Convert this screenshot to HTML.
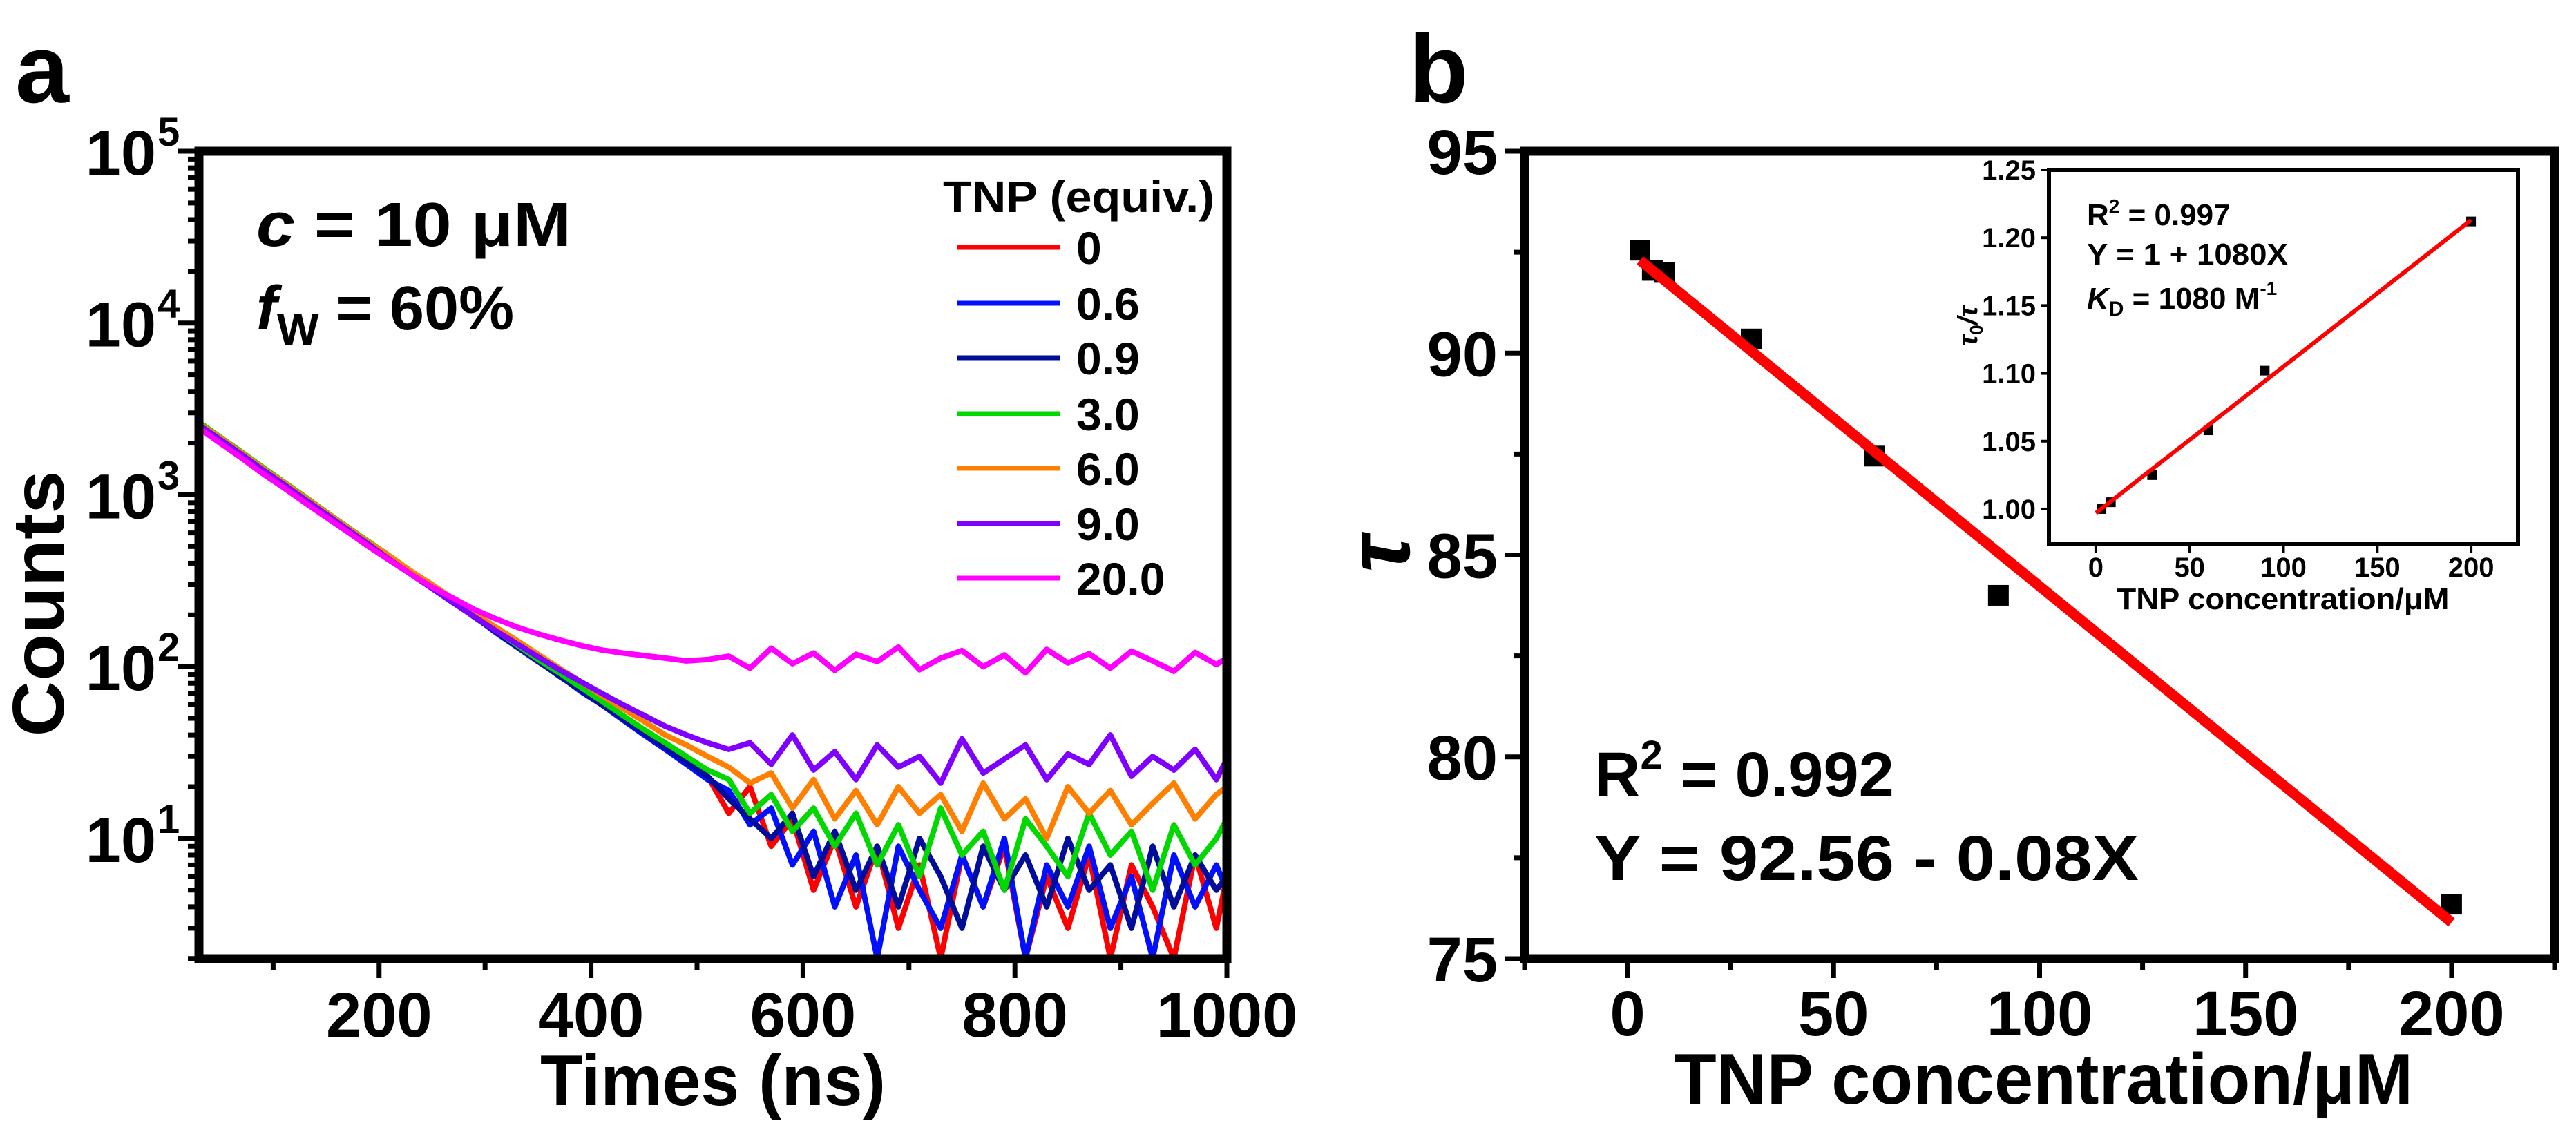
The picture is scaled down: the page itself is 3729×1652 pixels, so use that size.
<!DOCTYPE html>
<html><head><meta charset="utf-8"><style>
html,body{margin:0;padding:0;background:#fff}
svg{display:block}
text{font-family:"Liberation Sans",Arial,sans-serif;font-weight:bold}
</style></head><body>
<svg id="fig" width="3729" height="1652" viewBox="0 0 3729 1652" xmlns="http://www.w3.org/2000/svg">
<defs>
<clipPath id="clipA"><rect x="288" y="219" width="1488" height="1169"/></clipPath>
</defs>
<g id="panelA"></g>
<g id="panelB"></g>
</svg>
<script>
// ---------- Panel a data ----------
const times = [30,50,70,90,110,130,150,170,190,210,230,250,270,290,310,330,350,370,390,410,430,450,470,490,510,530,550,570,590,610,630,650,670,690,710,730,750,770,790,810,830,850,870,890,910,930,950,970,990,1000];
const seriesNames = ["0","0.6","0.9","3.0","6.0","9.0","20.0"];
const seriesColors = ["#ff0000","#0010ff","#000c9a","#00d800","#ff8000","#8000ff","#ff00ff"];
const s0 = [2600,2150,1760,1420,1180,950,790,650,520,430,355,290,240,195,160,132,108,90,74,62,50,42,34,29,23,14,20,9,13,5,10,4,9,3,7,2,8,4,9,2,6,3,8,2,7,4,2,8,3,6];
const s06 = [2620,2140,1750,1440,1160,960,780,640,530,430,350,292,236,196,158,130,107,89,72,60,49,40,33,27,22,19,12,15,7,11,4,8,2,9,5,3,8,4,10,2,7,4,9,3,6,2,8,4,7,5];
const s09 = [2600,2160,1770,1430,1170,970,790,645,525,435,352,290,238,194,160,131,108,88,73,60,50,41,34,28,23,17,13,10,14,6,11,5,9,4,10,6,3,9,5,8,4,10,5,7,3,9,4,8,5,6];
const s3 = [2650,2170,1780,1450,1190,975,795,650,535,440,360,295,240,198,163,134,110,92,76,63,52,43,36,30,25,22,14,18,11,15,9,14,7,12,6,15,8,11,5,13,9,6,14,8,11,5,12,7,10,13];
const s6 = [2600,2150,1760,1430,1180,965,790,645,530,440,360,300,248,205,170,142,118,98,82,68,57,48,40,35,30,26,21,24,15,22,13,19,12,20,14,18,11,21,13,17,10,20,14,19,12,16,21,13,18,20];
const s9 = [2550,2100,1720,1400,1150,940,770,630,515,420,345,285,235,195,162,136,114,96,82,70,60,52,45,40,36,33,36,27,40,25,32,22,35,26,30,21,38,24,29,35,22,31,27,40,23,30,25,33,22,29];
const s20 = [2450,2000,1640,1330,1100,900,740,610,500,415,345,290,250,215,190,170,155,143,133,125,120,116,112,108,110,115,98,128,104,120,95,118,107,130,96,112,124,100,117,92,126,105,119,98,123,108,94,121,103,112];
const xTicksA = [200,400,600,800,1000];
const xMinorA = [100,300,500,700,900];
const yDecadesA = [1,2,3,4,5];

// ---------- Panel b data ----------
const conc = [3,6,9,30,60,90,200];
const tau = [92.55,92.05,92.0,90.35,87.45,84.0,76.35];
const fitX = [3,200];
const fitY = [92.3,75.9];
const xTicksB = [0,50,100,150,200];
const xMinorB = [-25,25,75,125,175,225];
const yTicksB = [75,80,85,90,95];
const yMinorB = [77.5,82.5,87.5,92.5];
const insetX = [3,8,30,60,90,200];
const insetY = [1.0,1.005,1.025,1.058,1.102,1.212];
const insetFitX = [0,200];
const insetFitY = [0.997,1.213];
const yTicksI = [1.00,1.05,1.10,1.15,1.20,1.25];
const xTicksI = [0,50,100,150,200];

const NS="http://www.w3.org/2000/svg";
function mk(tag,attrs,parent,txt){const e=document.createElementNS(NS,tag);for(const k in attrs)e.setAttribute(k,attrs[k]);if(txt!==undefined)e.textContent=txt;parent.appendChild(e);return e;}

// axis functions
const A={l:288,r:1776,t:219,b:1388,x0:30,x1:1000,y0:0.3,y1:5};
const xa=v=>A.l+(v-A.x0)/(A.x1-A.x0)*(A.r-A.l);
const ya=v=>A.b-(Math.log10(v)-A.y0)/(A.y1-A.y0)*(A.b-A.t);
const B={l:2207,r:3698,t:219,b:1388,x0:-25,x1:225,y0:75,y1:95};
const xb=v=>B.l+(v-B.x0)/(B.x1-B.x0)*(B.r-B.l);
const yb=v=>B.b-(v-B.y0)/(B.y1-B.y0)*(B.b-B.t);
const I={l:2966,r:3645,t:246,b:788,x0:-25,x1:225,y0:0.974,y1:1.25};
const xi=v=>I.l+(v-I.x0)/(I.x1-I.x0)*(I.r-I.l);
const yi=v=>I.b-(v-I.y0)/(I.y1-I.y0)*(I.b-I.t);

// ---------- Panel a ----------
const pa=document.getElementById('panelA');
const allS=[s0,s06,s09,s3,s6,s9,s20];
const cg=mk('g',{'clip-path':'url(#clipA)'},pa);


allS.forEach((s,i)=>{
  let d='';
  times.forEach((t,j)=>{if(s[j]!==undefined)d+=(j?'L':'M')+xa(t).toFixed(1)+' '+ya(s[j]).toFixed(1);});
  const p=mk('path',{d:d,fill:'none',stroke:seriesColors[i],'stroke-width':8,'stroke-linejoin':'round'},cg);
  
  
});
// ticks a
const tga=mk('g',{stroke:'#000','stroke-width':7},pa);


yDecadesA.forEach(d=>{
  const y=ya(Math.pow(10,d));
  mk('line',{x1:A.l-30,x2:A.l,y1:y,y2:y},tga);
  for(let m=2;m<=9;m++){const v=m*Math.pow(10,d-1);if(Math.log10(v)>=A.y0){const yy=ya(v);mk('line',{x1:A.l-16,x2:A.l,y1:yy,y2:yy},tga);}}
  const t=mk('text',{x:226,y:y+34,'font-size':92,'text-anchor':'end'},pa,'10');
  
  
  const sp=mk('text',{x:228,y:y-8,'font-size':58},pa,String(d));
  
  
});
xTicksA.forEach(v=>{
  const x=xa(v);mk('line',{x1:x,x2:x,y1:A.b,y2:A.b+28},tga);
  const t=mk('text',{x:x,y:1501,'font-size':92,'text-anchor':'middle'},pa,String(v));
  
  
});
xMinorA.forEach(v=>{const x=xa(v);mk('line',{x1:x,x2:x,y1:A.b,y2:A.b+16},tga);});
const fa=mk('rect',{x:A.l,y:A.t,width:A.r-A.l,height:A.b-A.t,fill:'none',stroke:'#000','stroke-width':13},pa);


// legend
const lg=mk('g',{},pa);


const lt=mk('text',{x:1365,y:307,'font-size':64,textLength:393,lengthAdjust:'spacingAndGlyphs'},lg,'TNP (equiv.)');


const legY=[358,439,518,599,678,758,837];
seriesNames.forEach((n,i)=>{
  const e=mk('g',{},lg);
  
  
  mk('line',{x1:1385,x2:1534,y1:legY[i],y2:legY[i],stroke:seriesColors[i],'stroke-width':7},e);
  mk('text',{x:1558,y:legY[i]+24,'font-size':66},e,n);
});
// annotations
const an1=mk('text',{x:371,y:356,'font-size':90,textLength:456,lengthAdjust:'spacingAndGlyphs'},pa);


mk('tspan',{'font-style':'italic'},an1,'c');mk('tspan',{},an1,' = 10 μM');
const an2=mk('text',{x:371,y:477,'font-size':90},pa);


mk('tspan',{'font-style':'italic'},an2,'f');mk('tspan',{'font-size':64,dy:22},an2,'W');mk('tspan',{dy:-22},an2,' = 60%');
const ttA=mk('text',{x:1032,y:1600,'font-size':104,'text-anchor':'middle',textLength:500,lengthAdjust:'spacingAndGlyphs'},pa,'Times (ns)');


const tyA=mk('text',{x:0,y:0,'font-size':106,'text-anchor':'middle',transform:'translate(92,874) rotate(-90)',textLength:385,lengthAdjust:'spacingAndGlyphs'},pa,'Counts');


const la=mk('text',{x:22,y:148,'font-size':140},pa,'a');



// ---------- Panel b ----------
const pb=document.getElementById('panelB');
const tgb=mk('g',{stroke:'#000','stroke-width':7},pb);


yTicksB.forEach(v=>{const y=yb(v);mk('line',{x1:B.l-28,x2:B.l,y1:y,y2:y},tgb);
  const t=mk('text',{x:2168,y:y+33,'font-size':92,'text-anchor':'end'},pb,String(v));
  
  });
yMinorB.forEach(v=>{const y=yb(v);mk('line',{x1:B.l-16,x2:B.l,y1:y,y2:y},tgb);});
xTicksB.forEach(v=>{const x=xb(v);mk('line',{x1:x,x2:x,y1:B.b,y2:B.b+28},tgb);
  const t=mk('text',{x:x,y:1499,'font-size':92,'text-anchor':'middle'},pb,String(v));
  
  });
xMinorB.forEach(v=>{const x=xb(v);mk('line',{x1:x,x2:x,y1:B.b,y2:B.b+16},tgb);});
const fb=mk('rect',{x:B.l,y:B.t,width:B.r-B.l,height:B.b-B.t,fill:'none',stroke:'#000','stroke-width':13},pb);


conc.forEach((c,i)=>{
  const r=mk('rect',{x:xb(c)-15,y:yb(tau[i])-15,width:30,height:30,fill:'#000'},pb);
  
  
});
const fl=mk('line',{x1:xb(fitX[0]),y1:yb(fitY[0]),x2:xb(fitX[1]),y2:yb(fitY[1]),stroke:'#ff0000','stroke-width':15},pb);


const r2=mk('text',{x:2308,y:1153,'font-size':92},pb);


mk('tspan',{},r2,'R');mk('tspan',{'font-size':58,dy:-40},r2,'2');mk('tspan',{dy:40},r2,' = 0.992');
const eq=mk('text',{x:2308,y:1274,'font-size':92,textLength:788,lengthAdjust:'spacingAndGlyphs'},pb,'Y = 92.56 - 0.08X');


const ttB=mk('text',{x:2958,y:1598,'font-size':104,'text-anchor':'middle',textLength:1070,lengthAdjust:'spacingAndGlyphs'},pb,'TNP concentration/μM');


const tyB=mk('text',{x:0,y:0,'font-size':130,'font-style':'italic','text-anchor':'middle',transform:'translate(2040,802) rotate(-90)',"font-family":"'DejaVu Serif',serif"},pb,'τ');


const lb=mk('text',{x:2040,y:148,'font-size':140},pb,'b');



// inset
const ig=mk('g',{},pb);


const tgi=mk('g',{stroke:'#000','stroke-width':4},ig);
yTicksI.forEach(v=>{const y=yi(v);mk('line',{x1:I.l-12,x2:I.l,y1:y,y2:y},tgi);
  const t=mk('text',{x:2947,y:y+14,'font-size':40,'text-anchor':'end'},ig,v.toFixed(2));
  
  });
xTicksI.forEach(v=>{const x=xi(v);mk('line',{x1:x,x2:x,y1:I.b,y2:I.b+12},tgi);
  const t=mk('text',{x:x,y:835,'font-size':40,'text-anchor':'middle'},ig,String(v));
  
  });
const fi=mk('rect',{x:I.l,y:I.t,width:I.r-I.l,height:I.b-I.t,fill:'none',stroke:'#000','stroke-width':6},ig);


insetX.forEach((c,i)=>{
  const r=mk('rect',{x:xi(c)-7,y:yi(insetY[i])-7,width:14,height:14,fill:'#000'},ig);
  
  
});
const ifl=mk('line',{x1:xi(insetFitX[0]),y1:yi(insetFitY[0]),x2:xi(insetFitX[1]),y2:yi(insetFitY[1]),stroke:'#ff0000','stroke-width':6},ig);


const ir=mk('text',{x:3021,y:326,'font-size':44},ig);


mk('tspan',{},ir,'R');mk('tspan',{'font-size':28,dy:-18},ir,'2');mk('tspan',{dy:18},ir,' = 0.997');
const ie=mk('text',{x:3021,y:383,'font-size':44,textLength:291,lengthAdjust:'spacingAndGlyphs'},ig,'Y = 1 + 1080X');


const ik=mk('text',{x:3021,y:447,'font-size':44},ig);


mk('tspan',{'font-style':'italic'},ik,'K');mk('tspan',{'font-size':30,dy:10},ik,'D');mk('tspan',{dy:-10},ik,' = 1080 M');mk('tspan',{'font-size':28,dy:-20},ik,'-1');
const ixt=mk('text',{x:3305,y:882,'font-size':44,'text-anchor':'middle',textLength:481,lengthAdjust:'spacingAndGlyphs'},ig,'TNP concentration/μM');


const iyt=mk('text',{x:0,y:0,'font-size':40,'font-weight':'normal','text-anchor':'middle',transform:'translate(2862,472) rotate(-90)'},ig);


mk('tspan',{'font-style':'italic'},iyt,'τ');mk('tspan',{'font-size':26,dy:8},iyt,'0');mk('tspan',{dy:-8,'font-style':'italic'},iyt,'/τ');
</script>
</body></html>
